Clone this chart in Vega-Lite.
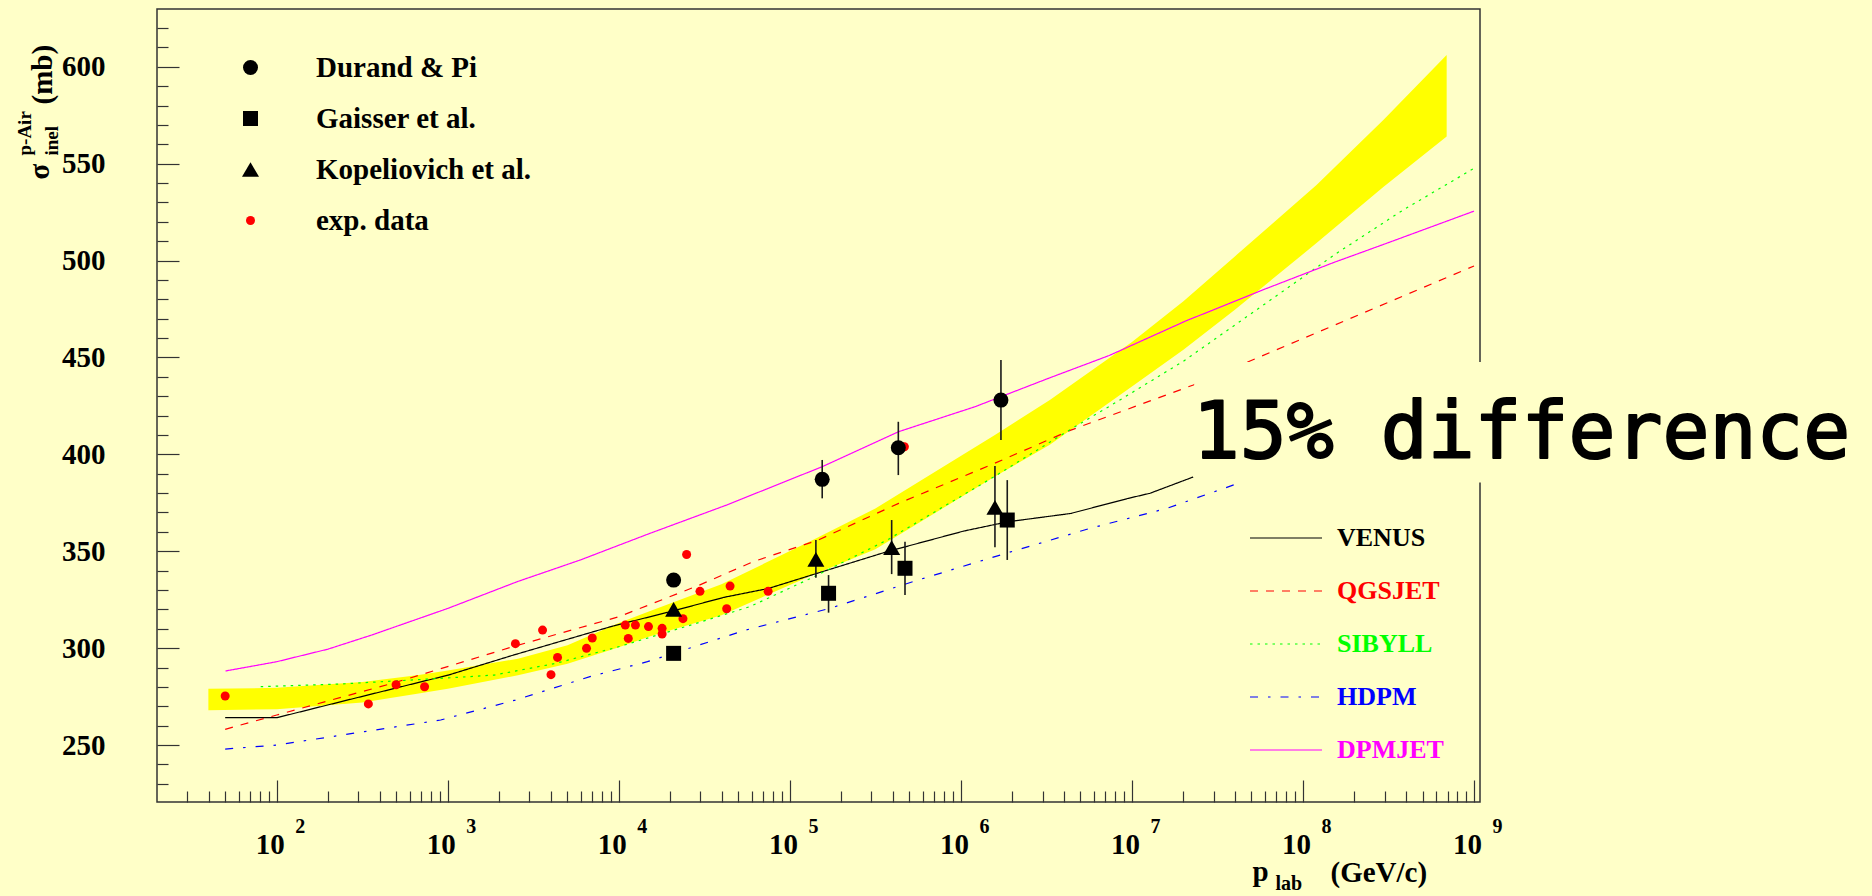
{
  "$schema": "https://vega.github.io/schema/vega-lite/v6.json",
  "width": 1323,
  "height": 793,
  "autosize": "none",
  "padding": {"left": 157, "top": 9, "right": 392, "bottom": 94},
  "background": "#ffffc8",
  "config": {
    "view": {"stroke": "#333333", "strokeWidth": 1.5},
    "font": "Liberation Serif",
    "axis": {"grid": false, "domain": false, "labelColor": "#000000", "titleColor": "#000000", "tickColor": "#333333", "tickWidth": 1.2}
  },
  "datasets": {
    "band": [
      {"p": 39.8, "lo": 268, "hi": 279},
      {"p": 100, "lo": 268.5, "hi": 279.5},
      {"p": 316, "lo": 272, "hi": 282.5},
      {"p": 661, "lo": 276.5, "hi": 286},
      {"p": 1000, "lo": 279, "hi": 288.5},
      {"p": 2570, "lo": 286, "hi": 294.5},
      {"p": 5010, "lo": 292, "hi": 301.5},
      {"p": 10000, "lo": 300.5, "hi": 313},
      {"p": 15100, "lo": 306, "hi": 319},
      {"p": 39800, "lo": 317, "hi": 333},
      {"p": 138000, "lo": 338, "hi": 356},
      {"p": 316000, "lo": 351, "hi": 372},
      {"p": 1580000, "lo": 388.5, "hi": 410},
      {"p": 3310000, "lo": 405, "hi": 428},
      {"p": 10000000, "lo": 435, "hi": 458},
      {"p": 20000000, "lo": 454, "hi": 479},
      {"p": 39800000, "lo": 474.5, "hi": 502},
      {"p": 120000000, "lo": 509, "hi": 539},
      {"p": 295000000, "lo": 538, "hi": 572.5},
      {"p": 692000000, "lo": 564, "hi": 606}
    ],
    "curves": [
      {"model": "VENUS", "p": 49.9, "s": 264.1},
      {"model": "VENUS", "p": 100, "s": 264.1},
      {"model": "VENUS", "p": 238, "s": 272.4},
      {"model": "VENUS", "p": 1007, "s": 286.1},
      {"model": "VENUS", "p": 2415, "s": 296.4},
      {"model": "VENUS", "p": 9226, "s": 311.4},
      {"model": "VENUS", "p": 19950, "s": 318.8},
      {"model": "VENUS", "p": 41110, "s": 326.2},
      {"model": "VENUS", "p": 74990, "s": 330.8},
      {"model": "VENUS", "p": 154200, "s": 339.4},
      {"model": "VENUS", "p": 370700, "s": 349.8},
      {"model": "VENUS", "p": 1038000, "s": 360.4},
      {"model": "VENUS", "p": 1879000, "s": 365.2},
      {"model": "VENUS", "p": 4395000, "s": 369.5},
      {"model": "VENUS", "p": 9528000, "s": 377.3},
      {"model": "VENUS", "p": 12740000, "s": 379.9},
      {"model": "VENUS", "p": 22800000, "s": 388.3},
      {"model": "QGSJET", "p": 49.9, "s": 258.1},
      {"model": "QGSJET", "p": 100, "s": 265.5},
      {"model": "QGSJET", "p": 490, "s": 282.2},
      {"model": "QGSJET", "p": 2477, "s": 301.1},
      {"model": "QGSJET", "p": 10000, "s": 316.2},
      {"model": "QGSJET", "p": 29510, "s": 332.5},
      {"model": "QGSJET", "p": 60950, "s": 344.6},
      {"model": "QGSJET", "p": 146600, "s": 355.8},
      {"model": "QGSJET", "p": 432500, "s": 374.7},
      {"model": "QGSJET", "p": 1567000, "s": 395.3},
      {"model": "QGSJET", "p": 4395000, "s": 412.5},
      {"model": "QGSJET", "p": 22860000, "s": 435.8},
      {"model": "QGSJET", "p": 47860000, "s": 447.8},
      {"model": "QGSJET", "p": 1000000000, "s": 497.2},
      {"model": "SIBYLL", "p": 80.5, "s": 280.1},
      {"model": "SIBYLL", "p": 238, "s": 281.5},
      {"model": "SIBYLL", "p": 908, "s": 284.4},
      {"model": "SIBYLL", "p": 1866, "s": 286.1},
      {"model": "SIBYLL", "p": 4256, "s": 292.1},
      {"model": "SIBYLL", "p": 9705, "s": 300.4},
      {"model": "SIBYLL", "p": 24550, "s": 311.1},
      {"model": "SIBYLL", "p": 58340, "s": 321.4},
      {"model": "SIBYLL", "p": 139000, "s": 336.9},
      {"model": "SIBYLL", "p": 370700, "s": 355.8},
      {"model": "SIBYLL", "p": 1567000, "s": 388.5},
      {"model": "SIBYLL", "p": 4395000, "s": 413},
      {"model": "SIBYLL", "p": 8128000, "s": 427},
      {"model": "SIBYLL", "p": 19950000, "s": 448},
      {"model": "SIBYLL", "p": 63100000, "s": 479},
      {"model": "SIBYLL", "p": 157000000, "s": 503.7},
      {"model": "SIBYLL", "p": 385500000, "s": 526.1},
      {"model": "SIBYLL", "p": 1000000000, "s": 547.6},
      {"model": "HDPM", "p": 49.9, "s": 247.9},
      {"model": "HDPM", "p": 100, "s": 250},
      {"model": "HDPM", "p": 324, "s": 256.9},
      {"model": "HDPM", "p": 908, "s": 262.9},
      {"model": "HDPM", "p": 2483, "s": 273.2},
      {"model": "HDPM", "p": 6776, "s": 285.3},
      {"model": "HDPM", "p": 14690, "s": 293},
      {"model": "HDPM", "p": 55080, "s": 309.3},
      {"model": "HDPM", "p": 171000, "s": 320.5},
      {"model": "HDPM", "p": 559800, "s": 335.1},
      {"model": "HDPM", "p": 1828000, "s": 348.9},
      {"model": "HDPM", "p": 5689000, "s": 361.8},
      {"model": "HDPM", "p": 15960000, "s": 372.1},
      {"model": "HDPM", "p": 41690000, "s": 385},
      {"model": "DPMJET", "p": 50.1, "s": 288.2},
      {"model": "DPMJET", "p": 100, "s": 293},
      {"model": "DPMJET", "p": 199.5, "s": 299.5},
      {"model": "DPMJET", "p": 360, "s": 306.8},
      {"model": "DPMJET", "p": 1000, "s": 320.5},
      {"model": "DPMJET", "p": 2547, "s": 334.3},
      {"model": "DPMJET", "p": 5957, "s": 345.5},
      {"model": "DPMJET", "p": 15170, "s": 359.2},
      {"model": "DPMJET", "p": 42560, "s": 373.8},
      {"model": "DPMJET", "p": 154200, "s": 393.6},
      {"model": "DPMJET", "p": 432500, "s": 411.7},
      {"model": "DPMJET", "p": 1211000, "s": 424.6},
      {"model": "DPMJET", "p": 3311000, "s": 439.5},
      {"model": "DPMJET", "p": 7362000, "s": 451},
      {"model": "DPMJET", "p": 20610000, "s": 468.8},
      {"model": "DPMJET", "p": 61240000, "s": 485.6},
      {"model": "DPMJET", "p": 150300000, "s": 498.9},
      {"model": "DPMJET", "p": 308300000, "s": 508.9},
      {"model": "DPMJET", "p": 1000000000, "s": 525.5}
    ],
    "pts": [
      {"src": "exp. data", "p": 49.9, "s": 275.3},
      {"src": "exp. data", "p": 343, "s": 271.2},
      {"src": "exp. data", "p": 498, "s": 281.1},
      {"src": "exp. data", "p": 731, "s": 280.1},
      {"src": "exp. data", "p": 2484, "s": 302.3},
      {"src": "exp. data", "p": 3580, "s": 309.3},
      {"src": "exp. data", "p": 4010, "s": 286.3},
      {"src": "exp. data", "p": 4380, "s": 295.2},
      {"src": "exp. data", "p": 6470, "s": 299.9},
      {"src": "exp. data", "p": 6990, "s": 305.2},
      {"src": "exp. data", "p": 10900, "s": 311.9},
      {"src": "exp. data", "p": 11350, "s": 305},
      {"src": "exp. data", "p": 12500, "s": 311.9},
      {"src": "exp. data", "p": 14900, "s": 311.1},
      {"src": "exp. data", "p": 17900, "s": 310.2},
      {"src": "exp. data", "p": 17900, "s": 307.3},
      {"src": "exp. data", "p": 23700, "s": 315.2},
      {"src": "exp. data", "p": 24900, "s": 348.3},
      {"src": "exp. data", "p": 29800, "s": 329.3},
      {"src": "exp. data", "p": 42700, "s": 320.3},
      {"src": "exp. data", "p": 44700, "s": 332},
      {"src": "exp. data", "p": 74600, "s": 329.3},
      {"src": "exp. data", "p": 467000, "s": 403.9},
      {"src": "Durand & Pi", "p": 20900, "s": 335.1},
      {"src": "Durand & Pi", "p": 154500, "s": 387.1, "lo": 377.3, "hi": 397.1},
      {"src": "Durand & Pi", "p": 430500, "s": 403.4, "lo": 389.3, "hi": 416.8},
      {"src": "Durand & Pi", "p": 1714000, "s": 428, "lo": 407.4, "hi": 448.7},
      {"src": "Gaisser et al.", "p": 20900, "s": 297.3},
      {"src": "Gaisser et al.", "p": 168300, "s": 328.3, "lo": 318.3, "hi": 337.7},
      {"src": "Gaisser et al.", "p": 471000, "s": 341.2, "lo": 327.4, "hi": 354.9},
      {"src": "Gaisser et al.", "p": 1866000, "s": 366.1, "lo": 345.5, "hi": 386.7},
      {"src": "Kopeliovich et al.", "p": 20900, "s": 320},
      {"src": "Kopeliovich et al.", "p": 141900, "s": 345.8, "lo": 336.3, "hi": 355.8},
      {"src": "Kopeliovich et al.", "p": 393600, "s": 351.8, "lo": 338.2, "hi": 366.1},
      {"src": "Kopeliovich et al.", "p": 1581000, "s": 372.6, "lo": 352, "hi": 394}
    ],
    "note": [{"text": "15% difference"}]
  },
  "resolve": {
    "axis": {"x": "independent", "y": "independent"},
    "scale": {"color": "independent", "shape": "independent", "size": "independent", "strokeDash": "independent"}
  },
  "layer": [
    {
      "data": {"name": "band"},
      "mark": {"type": "area", "color": "#ffff00", "opacity": 1},
      "encoding": {
        "x": {
          "field": "p", "type": "quantitative",
          "scale": {"type": "log", "domain": [19.93, 1084000000], "nice": false},
          "axis": {
            "orient": "bottom", "values": [100, 1000, 10000, 100000, 1000000, 10000000, 100000000, 1000000000],
            "labels": false, "tickSize": -22,
            "title": "(GeV/c)", "titleX": 1173, "titleY": 79, "titleAngle": 0, "titleAlign": "left", "titleBaseline": "alphabetic",
            "titleFont": "Liberation Serif", "titleFontSize": 29, "titleFontWeight": "bold"
          }
        },
        "y": {
          "field": "lo", "type": "quantitative",
          "scale": {"domain": [220.6, 629.8], "nice": false, "zero": false},
          "axis": {
            "orient": "left", "values": [250, 300, 350, 400, 450, 500, 550, 600],
            "labels": false, "tickSize": -22,
            "title": "(mb)", "titleX": -106, "titleY": 95, "titleAngle": 270, "titleAlign": "left", "titleBaseline": "alphabetic",
            "titleFont": "Liberation Serif", "titleFontSize": 29, "titleFontWeight": "bold"
          }
        },
        "y2": {"field": "hi"}
      }
    },
    {
      "data": {"name": "curves"},
      "mark": {"type": "line", "strokeWidth": 1.2},
      "encoding": {
        "x": {
          "field": "p", "type": "quantitative",
          "scale": {"type": "log", "domain": [19.93, 1084000000], "nice": false},
          "axis": {
            "orient": "bottom",
            "values": [30, 40, 50, 60, 70, 80, 90,
              200, 300, 400, 500, 600, 700, 800, 900,
              2000, 3000, 4000, 5000, 6000, 7000, 8000, 9000,
              20000, 30000, 40000, 50000, 60000, 70000, 80000, 90000,
              200000, 300000, 400000, 500000, 600000, 700000, 800000, 900000,
              2000000, 3000000, 4000000, 5000000, 6000000, 7000000, 8000000, 9000000,
              20000000, 30000000, 40000000, 50000000, 60000000, 70000000, 80000000, 90000000,
              200000000, 300000000, 400000000, 500000000, 600000000, 700000000, 800000000, 900000000],
            "labels": false, "tickSize": -11,
            "title": "p", "titleX": 1095, "titleY": 78, "titleAngle": 0, "titleAlign": "left", "titleBaseline": "alphabetic",
            "titleFont": "Liberation Serif", "titleFontSize": 29, "titleFontWeight": "bold"
          }
        },
        "y": {
          "field": "s", "type": "quantitative",
          "scale": {"domain": [220.6, 629.8], "nice": false, "zero": false},
          "axis": {
            "orient": "left",
            "values": [230, 240, 260, 270, 280, 290, 310, 320, 330, 340, 360, 370, 380, 390, 410, 420, 430, 440, 460, 470, 480, 490, 510, 520, 530, 540, 560, 570, 580, 590, 610, 620],
            "labels": false, "tickSize": -11,
            "title": "σ", "titleX": -109, "titleY": 170, "titleAngle": 270, "titleAlign": "left", "titleBaseline": "alphabetic",
            "titleFont": "Liberation Serif", "titleFontSize": 29, "titleFontWeight": "bold"
          }
        },
        "color": {
          "field": "model", "type": "nominal",
          "scale": {"domain": ["VENUS", "QGSJET", "SIBYLL", "HDPM", "DPMJET"], "range": ["#000000", "#ff0000", "#00ff00", "#0000ff", "#ff00ff"]},
          "legend": {
            "orient": "none", "legendX": 1092, "legendY": 492, "title": null, "padding": 0,
            "symbolType": "stroke", "symbolSize": 5184, "symbolStrokeWidth": 1.2,
            "labelFont": "Liberation Serif", "labelFontSize": 26, "labelFontWeight": "bold", "labelOffset": 14, "rowPadding": 3,
            "labelColor": {"expr": "datum.value === 'QGSJET' ? '#ff0000' : datum.value === 'SIBYLL' ? '#00ff00' : datum.value === 'HDPM' ? '#0000ff' : datum.value === 'DPMJET' ? '#ff00ff' : '#000000'"}
          }
        },
        "strokeDash": {
          "field": "model", "type": "nominal",
          "scale": {"domain": ["VENUS", "QGSJET", "SIBYLL", "HDPM", "DPMJET"], "range": [[1, 0], [8, 8], [2.5, 5], [8, 10, 2.5, 10], [1, 0]]}
        }
      }
    },
    {
      "data": {"name": "pts"},
      "transform": [{"filter": "isValid(datum.lo)"}],
      "mark": {"type": "rule", "color": "#1a1a1a", "strokeWidth": 1.6},
      "encoding": {
        "x": {
          "field": "p", "type": "quantitative",
          "scale": {"type": "log", "domain": [19.93, 1084000000], "nice": false},
          "axis": {
            "orient": "bottom", "values": [100, 1000, 10000, 100000, 1000000, 10000000, 100000000, 1000000000],
            "ticks": false, "tickSize": 0, "labelFlush": false, "labelOverlap": false,
            "labelExpr": "'' + round(log(datum.value) / LN10)",
            "labelFont": "Liberation Serif", "labelFontSize": 20, "labelFontWeight": "bold",
            "labelAlign": "left", "labelBaseline": "alphabetic", "labelPadding": 30, "labelOffset": 18,
            "title": null
          }
        },
        "y": {
          "field": "lo", "type": "quantitative",
          "scale": {"domain": [220.6, 629.8], "nice": false, "zero": false},
          "axis": {
            "orient": "left", "values": [250], "labels": false, "ticks": false, "tickSize": 0,
            "title": "p-Air", "titleX": -127, "titleY": 146, "titleAngle": 270, "titleAlign": "left", "titleBaseline": "alphabetic",
            "titleFont": "Liberation Serif", "titleFontSize": 19, "titleFontWeight": "bold"
          }
        },
        "y2": {"field": "hi"}
      }
    },
    {
      "data": {"name": "pts"},
      "mark": {"type": "point", "filled": true, "opacity": 1},
      "encoding": {
        "x": {
          "field": "p", "type": "quantitative",
          "scale": {"type": "log", "domain": [19.93, 1084000000], "nice": false},
          "axis": {
            "orient": "bottom", "values": [100, 1000, 10000, 100000, 1000000, 10000000, 100000000, 1000000000],
            "ticks": false, "tickSize": 0, "labelFlush": false, "labelOverlap": false,
            "labelExpr": "'10'",
            "labelFont": "Liberation Serif", "labelFontSize": 29, "labelFontWeight": "bold",
            "labelAlign": "center", "labelBaseline": "alphabetic", "labelPadding": 51, "labelOffset": -7,
            "title": "lab", "titleX": 1118, "titleY": 87, "titleAngle": 0, "titleAlign": "left", "titleBaseline": "alphabetic",
            "titleFont": "Liberation Serif", "titleFontSize": 20, "titleFontWeight": "bold"
          }
        },
        "y": {
          "field": "s", "type": "quantitative",
          "scale": {"domain": [220.6, 629.8], "nice": false, "zero": false},
          "axis": {
            "orient": "left", "values": [250, 300, 350, 400, 450, 500, 550, 600],
            "ticks": false, "tickSize": 0, "labelFlush": false, "labelOverlap": false,
            "labelFont": "Liberation Serif", "labelFontSize": 29, "labelFontWeight": "bold",
            "labelAlign": "right", "labelBaseline": "middle", "labelPadding": 52,
            "title": "inel", "titleX": -100, "titleY": 146, "titleAngle": 270, "titleAlign": "left", "titleBaseline": "alphabetic",
            "titleFont": "Liberation Serif", "titleFontSize": 19, "titleFontWeight": "bold"
          }
        },
        "color": {
          "field": "src", "type": "nominal",
          "scale": {"domain": ["Durand & Pi", "Gaisser et al.", "Kopeliovich et al.", "exp. data"], "range": ["#000000", "#000000", "#000000", "#ff0000"]},
          "legend": {
            "orient": "none", "legendX": 79, "legendY": 44, "title": null, "padding": 0,
            "symbolStrokeWidth": 0, "symbolOpacity": 1, "labelLimit": 400,
            "labelFont": "Liberation Serif", "labelFontSize": 29, "labelFontWeight": "bold", "labelColor": "#000000",
            "labelOffset": 51, "rowPadding": 21
          }
        },
        "shape": {
          "field": "src", "type": "nominal",
          "scale": {"domain": ["Durand & Pi", "Gaisser et al.", "Kopeliovich et al.", "exp. data"], "range": ["circle", "square", "triangle-up", "circle"]}
        },
        "size": {
          "field": "src", "type": "nominal",
          "scale": {"type": "ordinal", "domain": ["Durand & Pi", "Gaisser et al.", "Kopeliovich et al.", "exp. data"], "range": [225, 225, 290, 81]}
        }
      }
    },
    {
      "data": {"name": "note"},
      "mark": {"type": "rect", "color": "#ffffc8", "opacity": 1},
      "encoding": {
        "x": {"datum": 23100000, "type": "quantitative", "scale": {"type": "log", "domain": [19.93, 1084000000], "nice": false}, "axis": null},
        "x2": {"datum": 1000000000000},
        "y": {"datum": 385.5, "type": "quantitative", "scale": {"domain": [220.6, 629.8], "nice": false, "zero": false}, "axis": null},
        "y2": {"datum": 447.7}
      }
    },
    {
      "data": {"name": "note"},
      "mark": {"type": "text", "font": "DejaVu Sans Mono", "fontSize": 78, "fontWeight": "normal", "align": "left", "baseline": "alphabetic", "color": "#000000", "stroke": "#000000", "strokeWidth": 2, "strokeJoin": "round"},
      "encoding": {
        "x": {"datum": 22700000, "type": "quantitative", "scale": {"type": "log", "domain": [19.93, 1084000000], "nice": false}, "axis": null},
        "y": {"datum": 398, "type": "quantitative", "scale": {"domain": [220.6, 629.8], "nice": false, "zero": false}, "axis": null},
        "text": {"field": "text"}
      }
    }
  ]
}
